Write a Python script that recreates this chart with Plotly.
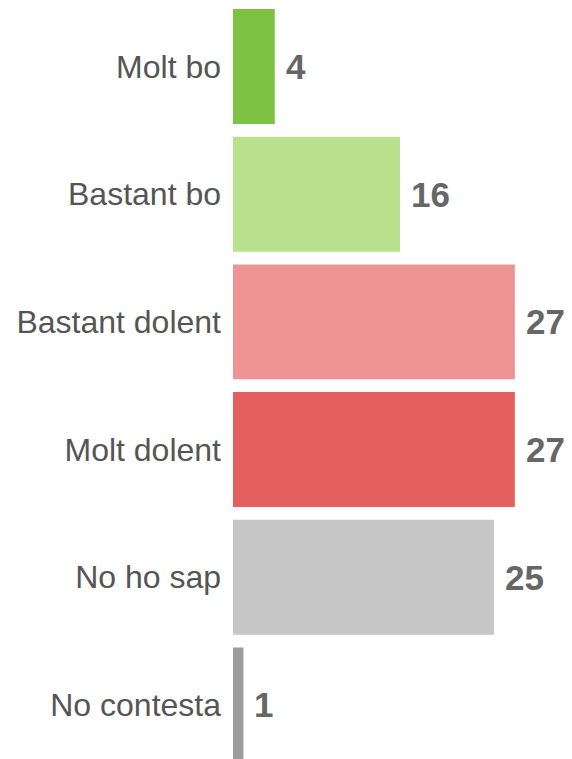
import plotly.graph_objects as go

categories = ["Molt bo", "Bastant bo", "Bastant dolent", "Molt dolent", "No ho sap", "No contesta"]
values = [4, 16, 27, 27, 25, 1]
colors = ["#7dc242", "#b9e08d", "#ee9494", "#e65f5f", "#c6c6c6", "#9d9d9d"]

fig = go.Figure()
fig.add_trace(go.Bar(
    y=categories, x=values, orientation="h",
    marker=dict(color=colors, line=dict(width=0)),
    hoverinfo="skip",
))
for c, v in zip(categories, values):
    fig.add_annotation(x=v, y=c, text=f"<b>{v}</b>", showarrow=False,
                       xanchor="left", yanchor="middle", xshift=9,
                       font=dict(family="Liberation Sans, Arial", size=35, color="#666666"))

fig.update_layout(
    width=572, height=759,
    margin=dict(l=225, r=0, t=0, b=0),
    paper_bgcolor="white", plot_bgcolor="white",
    bargap=0.1, showlegend=False,
    font=dict(family="Liberation Sans, Arial", size=32, color="#555555"),
)
fig.update_xaxes(range=[0, 33.24], visible=False, showgrid=False, zeroline=False)
fig.update_yaxes(type="category", categoryorder="array", categoryarray=categories,
                 range=[5.486, -0.458], showgrid=False, zeroline=False, showline=False,
                 ticks="", ticklabelstandoff=11,
                 tickfont=dict(family="Liberation Sans, Arial", size=32, color="#555555"))

fig.write_html("out.html")
